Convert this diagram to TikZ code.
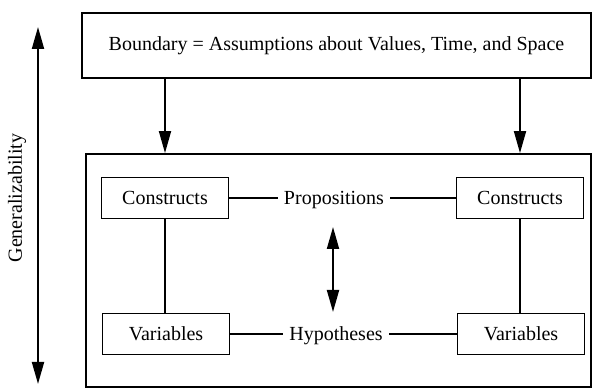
\documentclass[tikz,border=0pt]{standalone}
\usepackage{fontspec}
\setmainfont{Liberation Serif}
\usetikzlibrary{positioning,arrows.meta,calc}
\tikzset{
  >={Triangle[length=11pt,width=6pt]},
  txt/.style={font=\fontsize{10}{12}\selectfont},
  box/.style={draw, line width=0.9pt, minimum width=63.5pt, minimum height=20.5pt,
              inner sep=0pt, txt},
  frame/.style={draw, line width=0.9pt, inner sep=0pt, txt},
  lbl/.style={txt, inner sep=3pt},
  link/.style={line width=0.7pt},
  arr/.style={->, line width=0.9pt},
}
\begin{document}
\begin{tikzpicture}[x=0.5pt, y=-0.5pt]
  \useasboundingbox (0,0) rectangle (595,389);
  % outer boxes
  \node[frame, minimum width=254.5pt, minimum height=32.5pt] (bound) at (336.5,45.5)
    {Boundary = Assumptions about Values, Time, and Space};
  \node[frame, minimum width=252.5pt, minimum height=116.5pt] (field) at (338.5,270.5) {};
  % inner boxes
  \node[box] (conL) at (165,198) {Constructs};
  \node[box] (varL) at (166,334) {Variables};
  \node[box] (conR) at (520,198) {Constructs};
  \node[box] (varR) at (521,334) {Variables};
  \node[lbl, anchor=base] (prop) at (334,198 |- conL.base) {Propositions};
  \node[lbl, anchor=base] (hyp) at (336,334 |- varL.base) {Hypotheses};
  % links
  \draw[link] (conL.east) -- (conL.east -| prop.west);
  \draw[link] (conR.west -| prop.east) -- (conR.west);
  \draw[link] (varL.east) -- (varL.east -| hyp.west);
  \draw[link] (varR.west -| hyp.east) -- (varR.west);
  \draw[link] (conL.south) -- (conL.south |- varL.north);
  \draw[link] (conR.south) -- (conR.south |- varR.north);
  % boundary arrows
  \draw[arr] (conL |- bound.south) -- (conL |- field.north);
  \draw[arr] (conR |- bound.south) -- (conR |- field.north);
  % middle double arrow
  \coordinate (midT) at (333,227);
  \coordinate (midB) at (333,312);
  \draw[arr, <->] (midT) -- (midB);
  % generalizability
  \coordinate (genT) at (38,27);
  \coordinate (genB) at (38,384);
  \draw[arr, <->] (genT) -- (genB);
  \node[txt, rotate=90] (gen) at (17,198) {Generalizability};
\end{tikzpicture}
\end{document}
